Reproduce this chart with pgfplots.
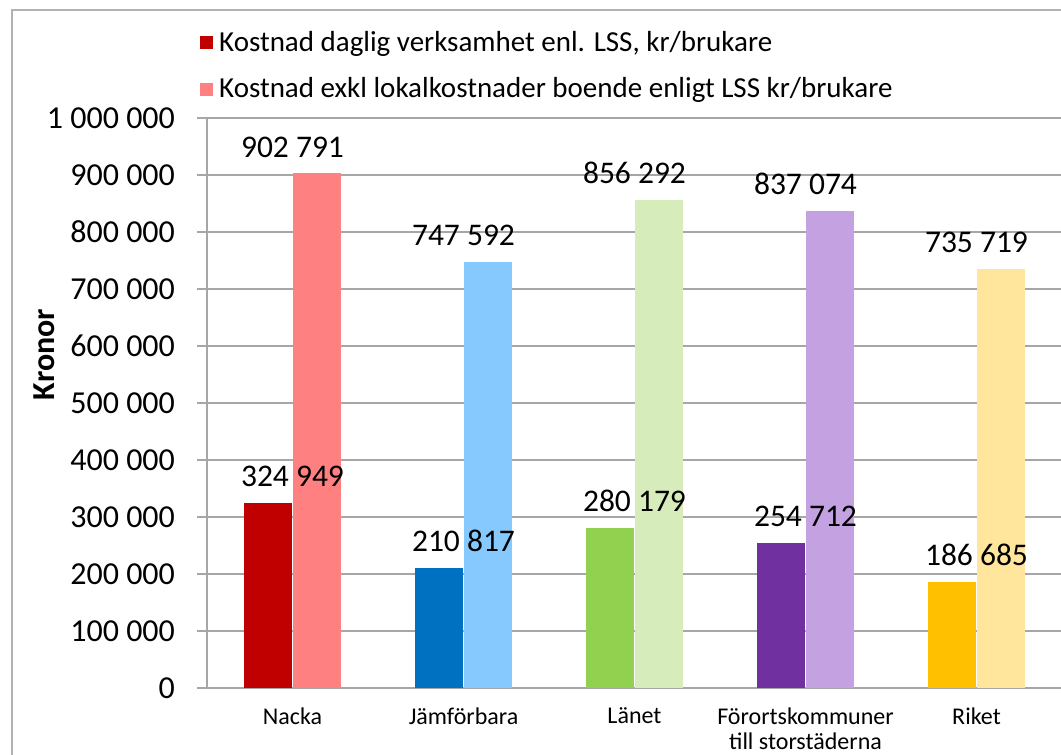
\documentclass[border=0pt]{standalone}
\usepackage{fontspec}
\setmainfont{Carlito}
\usepackage{pgfplots}
\pgfplotsset{compat=1.18}
\definecolor{c1}{HTML}{C00000}
\definecolor{c1l}{HTML}{FF8080}
\definecolor{c2}{HTML}{0070C0}
\definecolor{c2l}{HTML}{85C9FF}
\definecolor{c3}{HTML}{92D050}
\definecolor{c3l}{HTML}{D7ECBB}
\definecolor{c4}{HTML}{7030A0}
\definecolor{c4l}{HTML}{C4A1E0}
\definecolor{c5}{HTML}{FFC000}
\definecolor{c5l}{HTML}{FFE69C}
\definecolor{gridc}{HTML}{A6A6A6}
\newcommand{\lblfont}{\fontsize{15.75}{18}\selectfont}
\begin{document}
\begin{tikzpicture}
\useasboundingbox (0,0) rectangle (530.5pt,377.5pt);
\draw[black!30, line width=0.8pt] (6pt,0) -- (6pt,372.5pt) -- (540pt,372.5pt);
\begin{axis}[
  at={(103.5pt,33.5pt)}, anchor=south west,
  scale only axis, width=427.5pt, height=285pt,
  xmin=-0.5, xmax=4.5, ymin=0, ymax=1000000,
  axis x line=bottom, axis y line=left,
  axis line style={draw=gridc, line width=0.6pt, -},
  ytick distance=100000,
  scaled y ticks=false,
  ymajorgrids, grid style={draw=gridc, line width=0.6pt},
  tick align=outside, major tick length=5pt,
  ytick style={draw=gridc, line width=0.6pt},
  xtick={0,1,2,3,4},
  xticklabels={Nacka, Jämförbara, Länet, {Förortskommuner\\till storstäderna}, Riket},
  xticklabel style={align=center, font=\fontsize{12}{12.5}\selectfont, yshift=-1.5pt},
  xtick style={draw=none},
  yticklabel style={font=\fontsize{16}{18}\selectfont, xshift=-7.5pt, /pgf/number format/.cd, fixed, precision=0, 1000 sep={\hskip0.226em\relax}, assume math mode=true},
  ylabel={\textbf{Kronor}},
  ylabel style={at={(axis description cs:-0.1906,0.585)}, anchor=center, rotate=0, font=\fontsize{16}{18}\selectfont},
  legend style={at={(axis description cs:-0.0082,1)}, anchor=south west, yshift=6.5pt, draw=none, fill=none, inner sep=0pt, font=\fontsize{14.5}{16}\selectfont, row sep=7.5pt, column sep=1pt, nodes={inner sep=2pt}},
  legend cell align=left,
  nodes near coords={\pgfmathprintnumber[fixed, precision=0, 1000 sep={\hskip0.226em\relax}, assume math mode=true]{\pgfplotspointmeta}},
  every node near coord/.append style={font=\lblfont, yshift=4.5pt},
  clip=false,
]
\addlegendimage{legend image code/.code={\fill[c1] (0pt,-3pt) rectangle (6pt,3pt);}}
\addlegendentry{Kostnad daglig verksamhet enl. LSS, kr/brukare}
\addlegendimage{legend image code/.code={\fill[c1l] (0pt,-3pt) rectangle (6pt,3pt);}}
\addlegendentry{Kostnad exkl lokalkostnader boende enligt LSS kr/brukare}
\addplot[ybar, bar width=0.28, bar shift=-0.143, fill=c1, draw=none, forget plot] coordinates {(0,324949)};
\addplot[ybar, bar width=0.28, bar shift=0.143, fill=c1l, draw=none, forget plot] coordinates {(0,902791)};
\addplot[ybar, bar width=0.28, bar shift=-0.143, fill=c2, draw=none, forget plot] coordinates {(1,210817)};
\addplot[ybar, bar width=0.28, bar shift=0.143, fill=c2l, draw=none, forget plot] coordinates {(1,747592)};
\addplot[ybar, bar width=0.28, bar shift=-0.143, fill=c3, draw=none, forget plot] coordinates {(2,280179)};
\addplot[ybar, bar width=0.28, bar shift=0.143, fill=c3l, draw=none, forget plot] coordinates {(2,856292)};
\addplot[ybar, bar width=0.28, bar shift=-0.143, fill=c4, draw=none, forget plot] coordinates {(3,254712)};
\addplot[ybar, bar width=0.28, bar shift=0.143, fill=c4l, draw=none, forget plot] coordinates {(3,837074)};
\addplot[ybar, bar width=0.28, bar shift=-0.143, fill=c5, draw=none, forget plot] coordinates {(4,186685)};
\addplot[ybar, bar width=0.28, bar shift=0.143, fill=c5l, draw=none, forget plot] coordinates {(4,735719)};
\end{axis}
\end{tikzpicture}
\end{document}
